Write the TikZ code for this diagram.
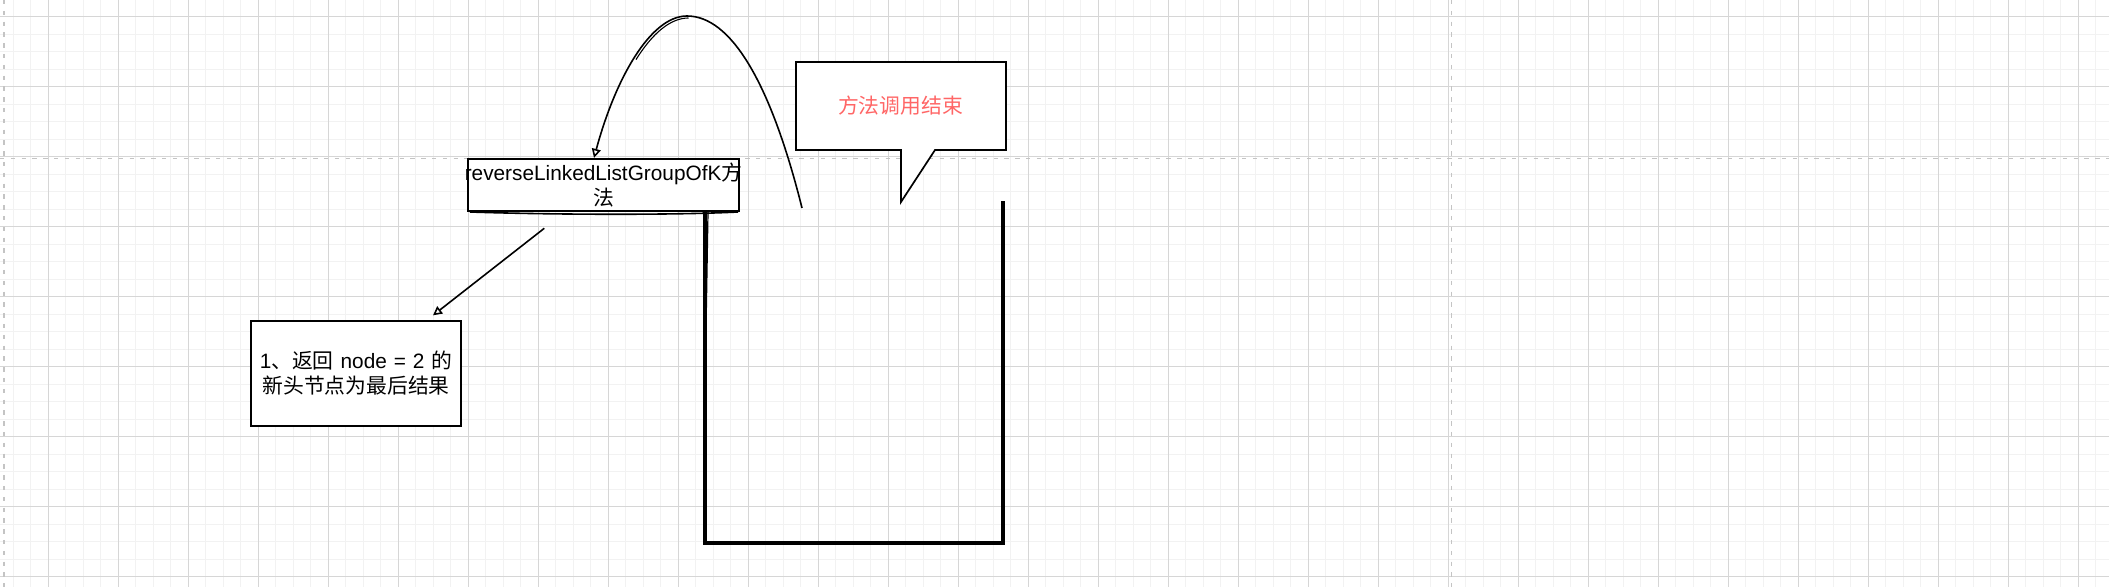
\documentclass[tikz,border=0pt]{standalone}
\usepackage{fontspec}
\setmainfont{Liberation Sans}
\newfontfamily\cjk{Noto Sans CJK SC}
\usepackage{xcolor}
\usepackage{tikz}
\usetikzlibrary{positioning}
\usetikzlibrary{arrows.meta}
\definecolor{gridminor}{HTML}{F2F2F2}
\definecolor{gridmajor}{HTML}{D6D6D6}
\definecolor{pagebreak}{HTML}{C4C4C4}
\definecolor{notered}{HTML}{FF6666}
\tikzset{>={Triangle[open,length=4.5pt,width=4.5pt]}}

\begin{document}
\begin{tikzpicture}[x=0.5pt, y=-0.5pt,
  every node/.style={font=\fontsize{10.4pt}{12.4pt}\selectfont},
  box/.style={draw, fill=white, line width=0.85pt, inner sep=0pt, align=center},
  callout/.style={draw, fill=white, line width=0.85pt, line join=miter},
  line/.style={draw, ->, line width=0.8pt},
  stack/.style={draw, line width=1.6pt, line join=miter}]
  \useasboundingbox (0,0) rectangle (2109,587);
  %% Grid
  \foreach \gx in {13.4,30.9,...,2109}
    \draw [gridminor, line width=0.5pt] (\gx,0) -- (\gx,587);
  \foreach \gy in {-0.7,16.8,...,587}
    \draw [gridminor, line width=0.5pt] (0,\gy) -- (2109,\gy);
  \foreach \gx in {48.4,118.4,...,2109}
    \draw [gridmajor, line width=0.5pt] (\gx,0) -- (\gx,587);
  \foreach \gy in {16.8,86.8,...,587}
    \draw [gridmajor, line width=0.5pt] (0,\gy) -- (2109,\gy);
  %% Page breaks
  \draw [pagebreak, line width=0.65pt, dash pattern=on 2.2pt off 3.2pt] (4,0) -- (4,587);
  \draw [pagebreak, line width=0.65pt, dash pattern=on 2.2pt off 3.2pt] (1451.7,0) -- (1451.7,587);
  \draw [pagebreak, line width=0.65pt, dash pattern=on 2.2pt off 3.2pt] (0,158.3) -- (2109,158.3);
  %% Boxes
  \node [box, minimum width=135.5pt, minimum height=26.3pt, text width=135.5pt] (meth) at (603.5,185)
  {\makebox[0pt]{reverseLinkedListGroupOfK{\cjk 方}}\\{\cjk 法}};
  \draw [line width=0.8pt] (470,212) .. controls (560,215) and (680,215) .. (738,212);
  \node [box, minimum width=105pt, minimum height=52.5pt, text width=105pt] (res) at (356,373.3)
  {1{\cjk 、返回} node = 2 {\cjk 的}\\{\cjk 新头节点为最后结果}};
  %% Callout
  \draw [callout] (796,62) -- (1006,62) -- (1006,150) -- (935,150) -- (901,202)
    -- (901,150) -- (796,150) -- cycle;
  \node [text=notered] (done) at (900.5,106) {\cjk 方法调用结束};
  %% Stack
  \coordinate (stkTL) at (705,211.5);
  \coordinate (stkBL) at (705,543);
  \coordinate (stkBR) at (1003,543);
  \coordinate (stkTR) at (1003,201);
  \draw [stack] (stkTL) -- (stkBL) -- (stkBR) -- (stkTR);
  \draw [line width=0.6pt] (708,212) -- (704.5,420);
  %% Arrows
  \coordinate (retFrom) at (802,208);
  \coordinate (resFrom) at (544.3,228.3);
  \path [line] (retFrom) .. controls (770,80) and (730,16) .. (687,16)
    .. controls (650,16) and (615,80) .. ([xshift=-4.75pt]meth.north);
  \draw [line width=0.55pt] (688.5,18) .. controls (670,18) and (652,34) .. (636,59.6);
  \path [line] (resFrom) -- ([xshift=38.5pt,yshift=2.3pt]res.north);
\end{tikzpicture}
\end{document}
